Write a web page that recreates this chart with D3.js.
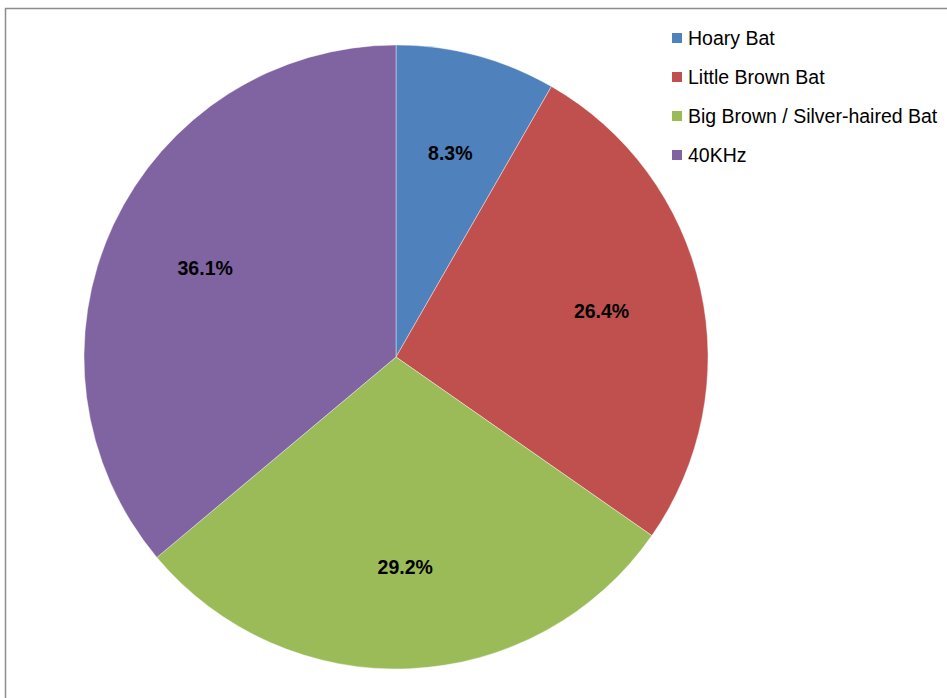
<!DOCTYPE html>
<html>
<head>
<meta charset="utf-8">
<script src="https://cdn.jsdelivr.net/npm/d3@7"></script>
<style>
  html, body { margin: 0; padding: 0; background: #fff; }
  svg { display: block; font-family: "Liberation Sans", Arial, sans-serif; }
</style>
</head>
<body>
<svg id="chart" width="947" height="698"></svg>
<script>
// Bat call types detected (share of recordings, %)
const categories = ["Hoary Bat", "Little Brown Bat", "Big Brown / Silver-haired Bat", "40KHz"];
const shares = [8.3, 26.4, 29.2, 36.1];
const colors = ["#4F81BD", "#C0504D", "#9BBB59", "#8064A2"];

const svg = d3.select("#chart");

// chart frame
svg.append("rect")
  .attr("x", 5.5).attr("y", 8.5)
  .attr("width", 1000).attr("height", 800)
  .attr("fill", "none")
  .attr("stroke", "#8c8c8c")
  .attr("stroke-width", 1.5);

const cx = 396, cy = 357, R = 312;
const data = categories.map((c, i) => ({ name: c, value: shares[i], color: colors[i] }));

const pie = d3.pie().value(d => d.value).sort(null);
const arcs = pie(data);
const arc = d3.arc().innerRadius(0).outerRadius(R);
const labelArc = d3.arc().innerRadius(R * 0.675).outerRadius(R * 0.675);

const g = svg.append("g").attr("transform", `translate(${cx},${cy})`);

g.selectAll("path.slice")
  .data(arcs)
  .join("path")
  .attr("class", "slice")
  .attr("d", arc)
  .attr("fill", d => d.data.color)
  .attr("stroke", "#ffffff")
  .attr("stroke-opacity", 0.5)
  .attr("stroke-width", 0.8);

g.selectAll("text.pct")
  .data(arcs)
  .join("text")
  .attr("class", "pct")
  .attr("transform", d => `translate(${labelArc.centroid(d)})`)
  .attr("text-anchor", "middle")
  .attr("dy", "0.35em")
  .attr("font-size", 19.5)
  .attr("font-weight", "bold")
  .attr("fill", "#000")
  .text(d => d.data.value.toFixed(1) + "%");

// legend
const legend = svg.append("g").attr("transform", "translate(672,38)");
const rows = legend.selectAll("g.item")
  .data(data)
  .join("g")
  .attr("class", "item")
  .attr("transform", (d, i) => `translate(0,${i * 39})`);

rows.append("rect")
  .attr("x", 0).attr("y", -5)
  .attr("width", 10).attr("height", 10)
  .attr("fill", d => d.color);

rows.append("text")
  .attr("x", 16)
  .attr("dy", "0.35em")
  .attr("font-size", 19.5)
  .attr("fill", "#000")
  .text(d => d.name);
</script>
</body>
</html>
